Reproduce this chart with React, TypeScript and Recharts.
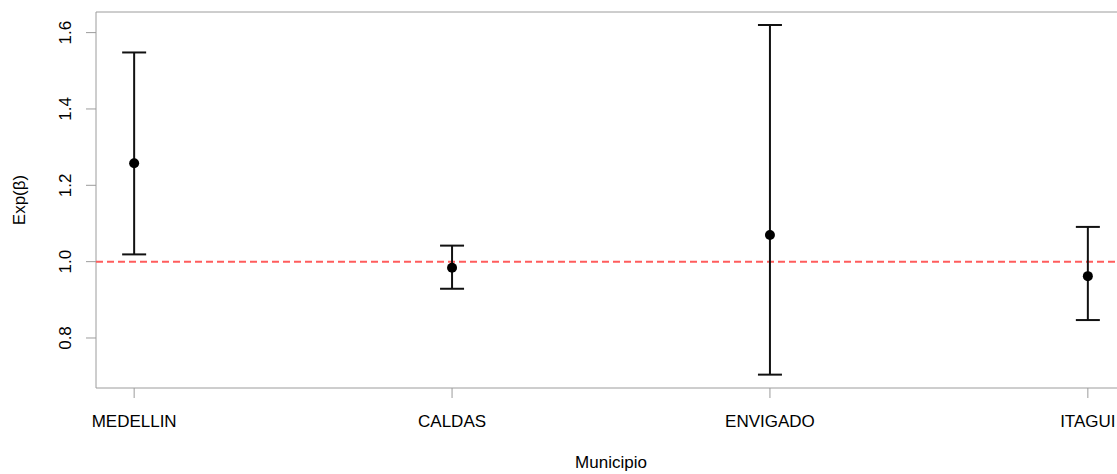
import React from "react";
import {
  ComposedChart,
  Scatter,
  ErrorBar,
  XAxis,
  YAxis,
  ReferenceLine,
  ReferenceArea,
} from "recharts";

const municipios = ["MEDELLIN", "CALDAS", "ENVIGADO", "ITAGUI"];
const estimate = [1.258, 0.984, 1.07, 0.962];
const lower = [1.019, 0.929, 0.704, 0.847];
const upper = [1.548, 1.042, 1.62, 1.091];
const yTicks = [0.8, 1.0, 1.2, 1.4, 1.6];
const xTicks = [1, 2, 3, 4];

const X_DOMAIN: [number, number] = [0.88, 4.12];
const Y_DOMAIN: [number, number] = [0.669, 1.654];

const FONT = "'Liberation Sans', Arial, Helvetica, sans-serif";
const GRAY = "#9c9c9c";

// points + asymmetric error (distance below, distance above)
const points = municipios.map((m, i) => ({
  x: i + 1,
  y: estimate[i],
  err: [estimate[i] - lower[i], upper[i] - estimate[i]],
}));

const XTick = (props: any) => {
  const { x, y, payload } = props;
  return (
    <text x={x} y={y + 28.5} textAnchor="middle" fontSize={17} fontFamily={FONT} fill="#000">
      {municipios[payload.value - 1]}
    </text>
  );
};

const YTick = (props: any) => {
  const { x, y, payload } = props;
  return (
    <text
      x={x - 15}
      y={y}
      transform={`rotate(-90, ${x - 15}, ${y})`}
      textAnchor="middle"
      fontSize={17}
      fontFamily={FONT}
      fill="#000"
    >
      {payload.value.toFixed(1)}
    </text>
  );
};

const Dot = (props: any) => <circle cx={props.cx} cy={props.cy} r={5} fill="#000" />;

export default function App() {
  return (
    <div style={{ position: "absolute", left: 0, top: 0, width: 1117, height: 474, overflow: "hidden", background: "#fff" }}>
      <ComposedChart width={1130} height={474} margin={{ top: 12, right: 4, bottom: 0, left: 0 }}>
        <XAxis
          type="number"
          dataKey="x"
          domain={X_DOMAIN}
          ticks={xTicks}
          allowDataOverflow
          axisLine={false}
          tickLine={{ stroke: GRAY }}
          tickSize={10}
          tickMargin={0}
          tick={<XTick />}
          height={86}
          label={(p: any) => {
            const vb = p.viewBox;
            return (
              <text x={vb.x + vb.width / 2} y={468} textAnchor="middle" fontSize={17} fontFamily={FONT} fill="#000">
                Municipio
              </text>
            );
          }}
        />
        <YAxis
          type="number"
          dataKey="y"
          domain={Y_DOMAIN}
          ticks={yTicks}
          allowDataOverflow
          axisLine={false}
          tickLine={{ stroke: GRAY }}
          tickSize={10}
          tickMargin={0}
          tick={<YTick />}
          width={96}
          label={(p: any) => {
            const vb = p.viewBox;
            const cy = vb.y + vb.height / 2;
            return (
              <text x={25} y={cy} transform={`rotate(-90, 25, ${cy})`} textAnchor="middle" fontSize={17} fontFamily={FONT} fill="#000">
                Exp(β)
              </text>
            );
          }}
        />
        <ReferenceArea
          x1={X_DOMAIN[0]}
          x2={X_DOMAIN[1]}
          y1={Y_DOMAIN[0]}
          y2={Y_DOMAIN[1]}
          fill="none"
          stroke={GRAY}
          strokeWidth={1}
          ifOverflow="visible"
        />
        <ReferenceLine y={1} stroke="#ff5c5c" strokeWidth={2} strokeDasharray="7 4" />
        <Scatter data={points} shape={<Dot />} isAnimationActive={false}>
          <ErrorBar dataKey="err" direction="y" width={12} stroke="#111" strokeWidth={2} />
        </Scatter>
      </ComposedChart>
    </div>
  );
}
